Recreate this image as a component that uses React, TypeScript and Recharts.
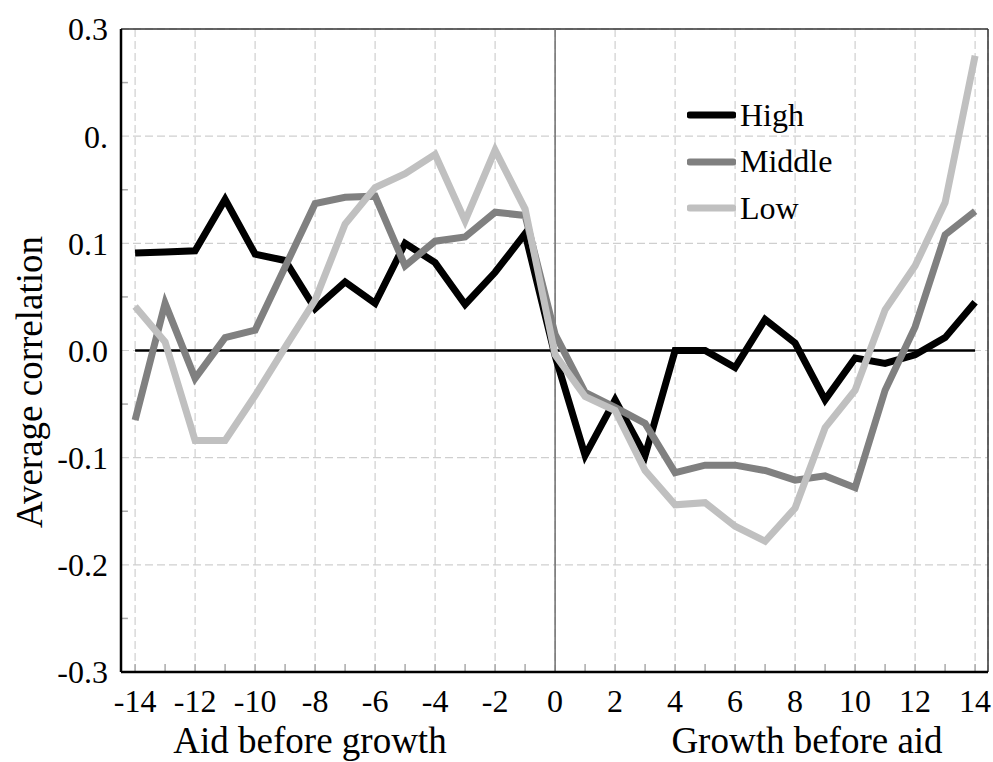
import {
  LineChart,
  Line,
  XAxis,
  YAxis,
  CartesianGrid,
  ReferenceLine,
  Legend,
} from 'recharts'

const lags = [
  -14, -13, -12, -11, -10, -9, -8, -7, -6, -5, -4, -3, -2, -1, 0,
  1, 2, 3, 4, 5, 6, 7, 8, 9, 10, 11, 12, 13, 14,
]

const high = [
  0.091, 0.092, 0.093, 0.141, 0.09, 0.084, 0.039, 0.064, 0.044, 0.1, 0.082, 0.043, 0.073, 0.109,
  -0.005,
  -0.098, -0.046, -0.098, 0.0, 0.0, -0.016, 0.029, 0.007, -0.046, -0.007, -0.012, -0.004, 0.012, 0.045,
]

const middle = [
  -0.065, 0.044, -0.026, 0.012, 0.019, 0.078, 0.137, 0.143, 0.144, 0.079, 0.102, 0.106, 0.129, 0.126,
  0.015,
  -0.039, -0.053, -0.068, -0.114, -0.107, -0.107, -0.112, -0.121, -0.117, -0.128, -0.037, 0.022, 0.108, 0.13,
]

const low = [
  0.041, 0.008, -0.084, -0.084, -0.042, 0.003, 0.047, 0.118, 0.152, 0.165, 0.183, 0.121, 0.187, 0.132,
  -0.004,
  -0.043, -0.056, -0.112, -0.144, -0.142, -0.164, -0.178, -0.147, -0.072, -0.037, 0.038, 0.079, 0.138, 0.275,
]

const seriesNames = ['High', 'Middle', 'Low']
const xTicks = [-14, -12, -10, -8, -6, -4, -2, 0, 2, 4, 6, 8, 10, 12, 14]
const yTicks = [-0.3, -0.2, -0.1, 0, 0.1, 0.2, 0.3]
const yTickLabels = ['-0.3', '-0.2', '-0.1', '0.0', '0.1', '0.', '0.3']
const yMinorTicks = [-0.25, -0.15, -0.05, 0.05, 0.15, 0.25]

const data = lags.map((lag, i) => ({
  lag,
  High: high[i],
  Middle: middle[i],
  Low: low[i],
}))

const SERIF = '"Liberation Serif", "Times New Roman", serif'
const colors: Record<string, string> = {
  High: '#000000',
  Middle: '#808080',
  Low: '#c0c0c0',
}
const X_MIN = -14.47
const X_MAX = 14.43

function YTitle() {
  return (
    <text
      x={42}
      y={382}
      transform="rotate(-90 42 382)"
      textAnchor="middle"
      fontSize={37}
      fontFamily={SERIF}
      fill="#000"
    >
      Average correlation
    </text>
  )
}

function XTitles() {
  return (
    <g fontFamily={SERIF} fontSize={37} fill="#000">
      <text x={310} y={753} textAnchor="middle">
        Aid before growth
      </text>
      <text x={807} y={753} textAnchor="middle">
        Growth before aid
      </text>
    </g>
  )
}

function LegendBox() {
  return (
    <div style={{ fontFamily: SERIF, fontSize: 32, color: '#000' }}>
      {seriesNames.map(name => (
        <div key={name} style={{ display: 'flex', alignItems: 'center', height: 46.5 }}>
          <svg width={49} height={10}>
            <line x1={3} y1={5} x2={46} y2={5} stroke={colors[name]} strokeWidth={7} strokeLinecap="round" />
          </svg>
          <span style={{ marginLeft: 4 }}>{name}</span>
        </div>
      ))}
    </div>
  )
}

export default function App() {
  return (
    <div style={{ position: 'absolute', left: 0, top: 0, width: 993, height: 762, background: '#fff' }}>
      <LineChart
        width={993}
        height={762}
        data={data}
        margin={{ top: 29, right: 5, bottom: 30, left: 11 }}
        style={{ fontFamily: SERIF }}
      >
        <CartesianGrid stroke="#cfcfcf" strokeDasharray="8 4" strokeWidth={1.2} />
        <XAxis
          dataKey="lag"
          type="number"
          domain={[X_MIN, X_MAX]}
          allowDataOverflow
          ticks={xTicks}
          interval={0}
          height={60}
          tickSize={0}
          tickMargin={17}
          tickLine={false}
          axisLine={{ stroke: '#000', strokeWidth: 2.5 }}
          tick={{ fontSize: 32, fill: '#000', fontFamily: SERIF }}
          label={<XTitles />}
        />
        <YAxis
          type="number"
          domain={[-0.3, 0.3]}
          ticks={yTicks}
          interval={0}
          width={110}
          tickSize={0}
          tickMargin={13}
          tickLine={false}
          axisLine={{ stroke: '#000', strokeWidth: 2.5 }}
          tick={{ fontSize: 32, fill: '#000', fontFamily: SERIF }}
          tickFormatter={(v: number) => yTickLabels[yTicks.indexOf(v)] ?? String(v)}
          label={<YTitle />}
        />
        <ReferenceLine y={0.3} stroke="#333" strokeWidth={1.5} />
        <ReferenceLine x={X_MAX} stroke="#333" strokeWidth={1.5} ifOverflow="visible" />
        {lags.filter(l => l !== 0).map(l => (
          <ReferenceLine
            key={`xt${l}`}
            segment={[{ x: l, y: -0.3 }, { x: l, y: -0.2925 }]}
            stroke="#aaa"
            strokeWidth={1.5}
          />
        ))}
        {yMinorTicks.map(v => (
          <ReferenceLine
            key={`yt${v}`}
            segment={[{ x: X_MIN, y: v }, { x: X_MIN + 0.23, y: v }]}
            stroke="#aaa"
            strokeWidth={1.5}
          />
        ))}
        <ReferenceLine x={0} stroke="#6e6e6e" strokeWidth={1.5} />
        <ReferenceLine
          segment={[{ x: -14, y: 0 }, { x: 14, y: 0 }]}
          stroke="#000"
          strokeWidth={2.5}
        />
        {seriesNames.map(name => (
          <Line
            key={name}
            type="linear"
            dataKey={name}
            stroke={colors[name]}
            strokeWidth={7}
            dot={false}
            activeDot={false}
            isAnimationActive={false}
          />
        ))}
        <Legend
          layout="vertical"
          align="center"
          verticalAlign="middle"
          content={<LegendBox />}
          wrapperStyle={{ left: 687, top: 92, width: 200, height: 140 }}
        />
      </LineChart>
    </div>
  )
}
